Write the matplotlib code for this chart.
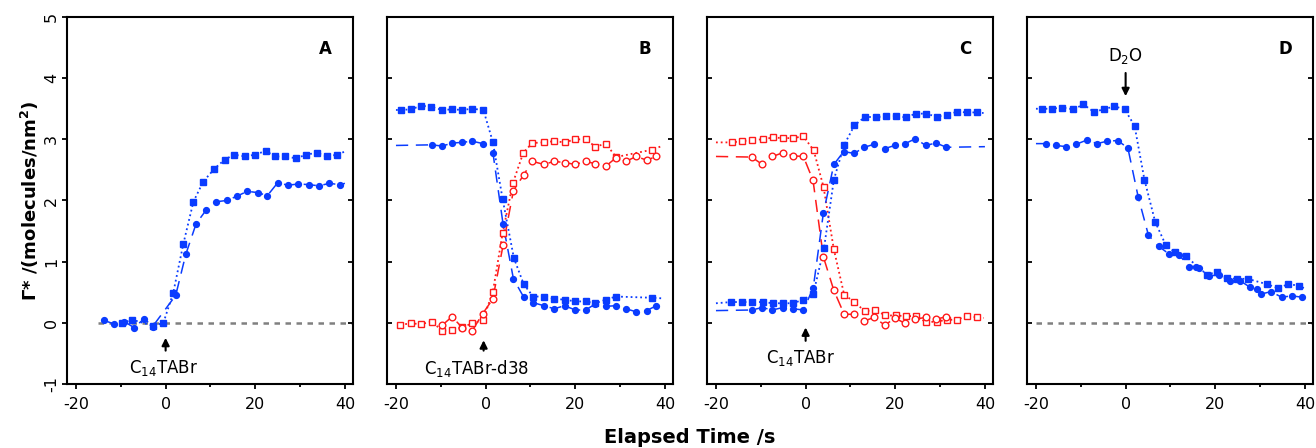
import numpy as np
import matplotlib
matplotlib.use("Agg")
import matplotlib.pyplot as plt

plt.rcParams['axes.unicode_minus'] = False

BLUE = '#0a3cff'
RED = '#ff1a1a'

# ---- panel A ----
a_sq_x = [-9.7, -7.4, -2.75, -0.5, 1.7, 3.95, 6.2, 8.4, 10.9, 13.2, 15.3, 17.7, 20.0, 22.3, 24.5, 26.7, 29.1, 31.4, 33.7, 36.0, 38.3]
a_sq_y = [0.0, 0.05, -0.05, 0.0, 0.49, 1.29, 1.98, 2.31, 2.52, 2.67, 2.75, 2.72, 2.75, 2.81, 2.72, 2.72, 2.69, 2.75, 2.78, 2.72, 2.75]
a_sq_tail = (40.3, 2.81)
a_ci_x = [-13.75, -11.45, -9.2, -7.0, -4.8, -2.9, 2.25, 4.5, 6.8, 9.0, 11.3, 13.6, 15.9, 18.2, 20.5, 22.7, 25.0, 27.3, 29.6, 31.9, 34.2, 36.5, 38.8]
a_ci_y = [0.04, -0.02, 0.02, -0.08, 0.07, -0.06, 0.45, 1.12, 1.62, 1.84, 1.98, 2.0, 2.07, 2.15, 2.13, 2.08, 2.29, 2.25, 2.27, 2.26, 2.24, 2.28, 2.26]
a_ci_tail = (40.0, 2.28)

# ---- panel B ----
b_bsq_x = [-18.9, -16.65, -14.35, -12.1, -9.7, -7.4, -5.2, -3.0, -0.5, 1.6, 3.8, 6.3, 8.5, 10.6, 13.0, 15.3, 17.6, 20.0, 22.3, 24.5, 26.8, 29.1, 37.1]
b_bsq_y = [3.48, 3.49, 3.55, 3.53, 3.48, 3.49, 3.48, 3.50, 3.48, 2.96, 2.02, 1.06, 0.63, 0.43, 0.43, 0.39, 0.38, 0.35, 0.35, 0.32, 0.38, 0.43, 0.41]
b_bsq_lead, b_bsq_tail = (-20.0, 3.48), (39.5, 0.40)
b_bci_x = [-12.0, -9.7, -7.4, -5.2, -3.0, -0.6, 1.65, 3.9, 6.2, 8.5, 10.6, 13.0, 15.3, 17.6, 20.0, 22.3, 24.5, 26.8, 29.1, 31.3, 33.6, 35.9, 38.1]
b_bci_y = [2.91, 2.89, 2.94, 2.95, 2.97, 2.93, 2.77, 1.61, 0.72, 0.42, 0.33, 0.28, 0.23, 0.28, 0.21, 0.21, 0.31, 0.27, 0.28, 0.23, 0.18, 0.20, 0.28]
b_bci_lead = (-20.0, 2.90)
b_rsq_x = [-19.0, -16.65, -14.35, -12.0, -9.7, -7.4, -5.2, -3.0, -0.65, 1.6, 3.8, 6.1, 8.4, 10.4, 13.0, 15.3, 17.6, 20.0, 22.3, 24.5, 26.8, 29.1, 37.1]
b_rsq_y = [-0.03, -0.01, -0.02, 0.02, -0.13, -0.12, -0.07, -0.01, 0.04, 0.50, 1.47, 2.29, 2.78, 2.94, 2.95, 2.97, 2.95, 3.0, 3.0, 2.88, 2.93, 2.71, 2.83]
b_rsq_tail = (39.3, 2.89)
b_rci_x = [-9.7, -7.5, -5.2, -3.0, -0.65, 1.6, 3.9, 6.2, 8.5, 10.4, 13.0, 15.3, 17.6, 20.0, 22.3, 24.5, 26.8, 29.1, 31.3, 33.6, 35.9, 38.1]
b_rci_y = [-0.04, 0.10, -0.08, -0.13, 0.15, 0.39, 1.27, 2.16, 2.42, 2.64, 2.59, 2.64, 2.62, 2.59, 2.64, 2.60, 2.56, 2.70, 2.64, 2.72, 2.66, 2.72]

# ---- panel C ----
c_rsq_x = [-16.4, -14.2, -11.9, -9.6, -7.3, -5.1, -2.8, -0.5, 1.8, 4.0, 6.3, 8.6, 10.9, 13.2, 15.5, 17.8, 20.1, 22.4, 24.6, 26.9, 29.2, 31.5, 33.7, 36.0, 38.3]
c_rsq_y = [2.95, 2.97, 2.99, 3.0, 3.03, 3.02, 3.02, 3.05, 2.82, 2.22, 1.20, 0.46, 0.34, 0.19, 0.21, 0.12, 0.12, 0.11, 0.11, 0.01, 0.02, 0.05, 0.05, 0.11, 0.09]
c_rsq_lead, c_rsq_tail = (-20.0, 2.95), (39.7, 0.08)
c_rci_x = [-12.0, -9.7, -7.4, -5.1, -2.8, -0.5, 1.65, 3.95, 6.3, 8.6, 10.8, 13.1, 15.3, 17.7, 19.9, 22.2, 24.5, 26.8, 29.1, 31.4]
c_rci_y = [2.71, 2.59, 2.72, 2.78, 2.73, 2.72, 2.33, 1.08, 0.53, 0.14, 0.14, 0.03, 0.09, -0.04, 0.08, -0.01, 0.06, 0.09, 0.06, 0.10]
c_rci_lead = (-20.0, 2.72)
c_bsq_x = [-16.6, -14.2, -11.9, -9.6, -7.3, -5.1, -2.8, -0.5, 1.7, 4.1, 6.3, 8.6, 10.9, 13.3, 15.6, 17.9, 20.1, 22.3, 24.6, 26.9, 29.2, 31.5, 33.7, 36.0, 38.3]
c_bsq_y = [0.34, 0.34, 0.34, 0.34, 0.32, 0.32, 0.32, 0.38, 0.47, 1.22, 2.34, 2.91, 3.23, 3.37, 3.36, 3.38, 3.38, 3.36, 3.42, 3.42, 3.37, 3.40, 3.45, 3.44, 3.44]
c_bsq_lead, c_bsq_tail = (-20.0, 0.32), (39.7, 3.43)
c_bci_x = [-12.0, -9.7, -7.4, -5.1, -2.8, -0.5, 1.7, 3.95, 6.3, 8.5, 10.8, 13.1, 15.3, 17.7, 19.9, 22.2, 24.5, 26.8, 29.1, 31.4]
c_bci_y = [0.21, 0.25, 0.21, 0.25, 0.23, 0.21, 0.57, 1.79, 2.59, 2.80, 2.77, 2.87, 2.92, 2.85, 2.90, 2.93, 3.01, 2.90, 2.94, 2.87]
c_bci_lead, c_bci_tail = (-20.0, 0.20), (40.0, 2.88)

# ---- panel D ----
d_sq_x = [-18.6, -16.4, -14.1, -11.7, -9.4, -7.1, -4.9, -2.5, -0.2, 2.0, 4.2, 6.6, 8.9, 11.0, 13.4, 18.1, 20.3, 22.6, 24.8, 27.2, 31.6, 33.9, 36.3, 38.6]
d_sq_y = [3.50, 3.50, 3.52, 3.49, 3.57, 3.45, 3.49, 3.54, 3.49, 3.22, 2.34, 1.65, 1.28, 1.15, 1.09, 0.79, 0.83, 0.73, 0.72, 0.72, 0.63, 0.57, 0.63, 0.61]
d_sq_lead, d_sq_tail = (-20.0, 3.50), (40.0, 0.56)
d_ci_x = [-17.8, -15.5, -13.2, -11.0, -8.6, -6.4, -4.1, -1.8, 0.5, 2.8, 5.1, 7.4, 9.6, 11.9, 14.2, 15.6, 16.4, 18.7, 20.9, 23.3, 25.5, 27.8, 29.4, 30.2, 32.4, 34.8, 37.1, 39.3]
d_ci_y = [2.93, 2.90, 2.88, 2.92, 2.99, 2.93, 2.97, 2.98, 2.86, 2.06, 1.43, 1.25, 1.13, 1.11, 0.92, 0.92, 0.90, 0.77, 0.78, 0.68, 0.69, 0.58, 0.56, 0.47, 0.51, 0.42, 0.44, 0.42]
d_ci_lead = (-20.0, 2.93)

panel_letters = ['A', 'B', 'C', 'D']
xticks = [-20, 0, 20, 40]
yticks = [-1, 0, 1, 2, 3, 4, 5]


def series(ax, x, y, kind, color, lead=None, tail=None):
    lx, ly = list(x), list(y)
    if lead:
        lx, ly = [lead[0]] + lx, [lead[1]] + ly
    if tail:
        lx, ly = lx + [tail[0]], ly + [tail[1]]
    if kind in ('sq', 'osq'):
        ax.plot(lx, ly, ls=':', lw=1.3, color=color, zorder=2)
    else:
        ax.plot(lx, ly, ls=(0, (8, 5)), lw=1.1, color=color, zorder=2)
    if kind == 'sq':
        ax.plot(x, y, 's', ms=4.6, color=color, mec=color, zorder=3)
    elif kind == 'ci':
        ax.plot(x, y, 'o', ms=4.2, color=color, mec=color, zorder=3)
    elif kind == 'osq':
        ax.plot(x, y, 's', ms=4.3, mfc='white', mec=color, mew=1.0, zorder=3)
    else:
        ax.plot(x, y, 'o', ms=4.8, mfc='white', mec=color, mew=1.0, zorder=3)


fig = plt.figure(figsize=(13.16, 4.48), dpi=100)
lefts = [67, 387, 707, 1027]
axes = []
for i, l in enumerate(lefts):
    ax = fig.add_axes([l / 1316, 64 / 448, 286 / 1316, 367 / 448])
    ax.set_xlim(-22, 41.8)
    ax.set_ylim(-1, 5)
    ax.set_xticks(xticks)
    ax.set_xticks([-10, 10, 30], minor=True)
    ax.set_yticks(yticks)
    for s in ax.spines.values():
        s.set_linewidth(1.5)
    ax.tick_params(axis='x', direction='out', length=3.5, width=1.3, labelsize=11.5, pad=6)
    ax.tick_params(axis='x', which='minor', direction='out', length=2.2, width=1.3)
    if i == 0:
        ax.tick_params(axis='y', direction='out', length=3.6, width=1.3, labelsize=11.5,
                       labelrotation=90, right=True, pad=2)
        for t in ax.get_yticklabels():
            t.set_va('center')
    else:
        ax.tick_params(axis='y', direction='in', length=3.6, width=1.3, right=True, labelleft=False)
    # right-side ticks point inward
    for tk in ax.yaxis.get_major_ticks():
        tk.tick2line.set_marker(matplotlib.lines.TICKLEFT)
    ax.text(0.902, 0.913, panel_letters[i], transform=ax.transAxes, fontsize=12,
            fontweight='bold', ha='center', va='center')
    axes.append(ax)

axA, axB, axC, axD = axes

# panel A
axA.hlines(0, -15, 41.5, colors='#808080', lw=1.8, linestyles=(0, (2.2, 2.2)), zorder=1)
series(axA, a_sq_x, a_sq_y, 'sq', BLUE, tail=a_sq_tail)
series(axA, a_ci_x, a_ci_y, 'ci', BLUE, tail=a_ci_tail)
axA.annotate('', xy=(0, -0.2), xytext=(0, -0.5),
             arrowprops=dict(arrowstyle='-|>', color='black', lw=1.5, mutation_scale=11))
axA.text(-0.5, -0.74, 'C$_{14}$TABr', ha='center', va='center', fontsize=12)

# panel B
series(axB, b_bsq_x, b_bsq_y, 'sq', BLUE, lead=b_bsq_lead, tail=b_bsq_tail)
series(axB, b_bci_x, b_bci_y, 'ci', BLUE, lead=b_bci_lead)
series(axB, b_rsq_x, b_rsq_y, 'osq', RED, tail=b_rsq_tail)
series(axB, b_rci_x, b_rci_y, 'oci', RED)
axB.annotate('', xy=(-0.45, -0.24), xytext=(-0.45, -0.5),
             arrowprops=dict(arrowstyle='-|>', color='black', lw=1.5, mutation_scale=11))
axB.text(-2.0, -0.74, 'C$_{14}$TABr-d38', ha='center', va='center', fontsize=12)

# panel C
series(axC, c_rsq_x, c_rsq_y, 'osq', RED, lead=c_rsq_lead, tail=c_rsq_tail)
series(axC, c_rci_x, c_rci_y, 'oci', RED, lead=c_rci_lead)
series(axC, c_bsq_x, c_bsq_y, 'sq', BLUE, lead=c_bsq_lead, tail=c_bsq_tail)
series(axC, c_bci_x, c_bci_y, 'ci', BLUE, lead=c_bci_lead, tail=c_bci_tail)
axC.annotate('', xy=(0, -0.03), xytext=(0, -0.34),
             arrowprops=dict(arrowstyle='-|>', color='black', lw=1.5, mutation_scale=11))
axC.text(-1.2, -0.58, 'C$_{14}$TABr', ha='center', va='center', fontsize=12)

# panel D
axD.hlines(0, -20, 41.5, colors='#808080', lw=1.8, linestyles=(0, (2.2, 2.2)), zorder=1)
series(axD, d_sq_x, d_sq_y, 'sq', BLUE, lead=d_sq_lead, tail=d_sq_tail)
series(axD, d_ci_x, d_ci_y, 'ci', BLUE, lead=d_ci_lead)
axD.annotate('', xy=(0, 3.66), xytext=(0, 4.13),
             arrowprops=dict(arrowstyle='-|>', color='black', lw=1.5, mutation_scale=11))
axD.text(0, 4.36, 'D$_2$O', ha='center', va='center', fontsize=12)

fig.text(30 / 1316, 1 - 200.5 / 448, 'Γ* /(molecules/nm$^\\mathbf{2}$)', rotation=90,
         ha='center', va='center', fontsize=13, fontweight='bold')
fig.text(690 / 1316, 1 - 437 / 448, 'Elapsed Time /s', ha='center', va='center',
         fontsize=14, fontweight='bold')

fig.savefig('out.png', dpi=100)
